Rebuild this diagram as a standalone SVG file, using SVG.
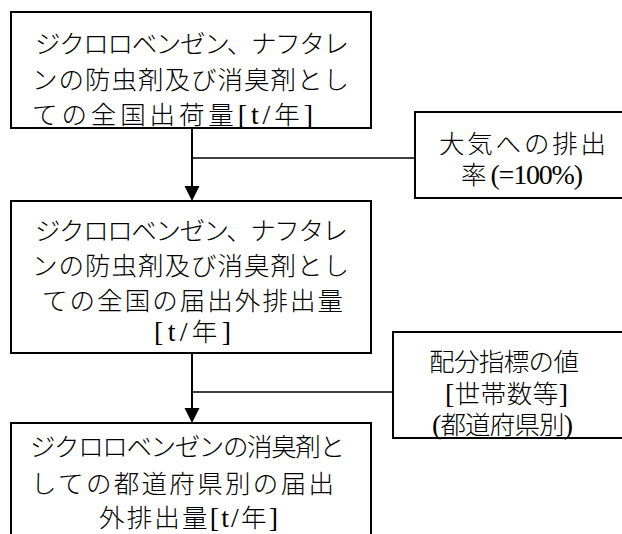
<svg xmlns="http://www.w3.org/2000/svg" width="622" height="534" viewBox="0 0 622 534">
<style>
.box{fill:#fff;stroke:#000;stroke-width:2}
.t{font-family:"Liberation Serif","Noto Sans CJK JP",serif;font-size:25.5px;font-weight:300;fill:#000}
.l{font-size:28px;font-weight:400}
.v{stroke:#000;stroke-width:2;fill:none}
.h{stroke:#000;stroke-width:1.5;fill:none}
</style>
<rect width="622" height="534" fill="#fff"/>
<g id="connectors">
<line class="v" x1="192" y1="128" x2="192" y2="187"/>
<polygon points="184.5,186 199.5,186 192,201" fill="#000"/>
<line class="h" x1="192" y1="158" x2="415" y2="158"/>
<line class="v" x1="192" y1="353" x2="192" y2="409"/>
<polygon points="184.5,408 199.5,408 192,423" fill="#000"/>
<line class="h" x1="192" y1="392" x2="393" y2="392"/>
</g>
<g id="node1">
<rect class="box" x="11" y="12" width="360" height="116"/>
<text class="t" x="35" y="53" textLength="314" lengthAdjust="spacing">ジクロロベンゼン、ナフタレ</text>
<text class="t" x="32" y="89" textLength="317" lengthAdjust="spacing">ンの防虫剤及び消臭剤とし</text>
<text class="t" x="32" y="124" textLength="281" lengthAdjust="spacing">ての全国出荷量<tspan class="l">[t/</tspan>年<tspan class="l">]</tspan></text>
</g>
<g id="node2">
<rect class="box" x="415" y="112" width="220" height="86"/>
<text class="t" x="439" y="153" textLength="167" lengthAdjust="spacing">大気への排出</text>
<text class="t" x="461" y="184" textLength="122" lengthAdjust="spacing">率 <tspan class="l">(=100%)</tspan></text>
</g>
<g id="node3">
<rect class="box" x="11" y="201" width="360" height="152"/>
<text class="t" x="35" y="240" textLength="313" lengthAdjust="spacing">ジクロロベンゼン、ナフタレ</text>
<text class="t" x="32" y="275" textLength="317" lengthAdjust="spacing">ンの防虫剤及び消臭剤とし</text>
<text class="t" x="42" y="310" textLength="301" lengthAdjust="spacing">ての全国の届出外排出量</text>
<text class="t" x="154" y="341" textLength="77" lengthAdjust="spacing"><tspan class="l">[t/</tspan>年<tspan class="l">]</tspan></text>
</g>
<g id="node4">
<rect class="box" x="393" y="332" width="240" height="106"/>
<text class="t" x="429" y="371" textLength="150" lengthAdjust="spacing">配分指標の値</text>
<text class="t" x="445" y="403" textLength="123" lengthAdjust="spacing"><tspan class="l">[</tspan>世帯数等<tspan class="l">]</tspan></text>
<text class="t" x="432" y="434" textLength="141" lengthAdjust="spacing"><tspan class="l">(</tspan>都道府県別<tspan class="l">)</tspan></text>
</g>
<g id="node5">
<rect class="box" x="11" y="423" width="360" height="130"/>
<text class="t" x="30" y="456" textLength="315" lengthAdjust="spacing">ジクロロベンゼンの消臭剤と</text>
<text class="t" x="31" y="493" textLength="303" lengthAdjust="spacing">しての都道府県別の届出</text>
<text class="t" x="99" y="527" textLength="179" lengthAdjust="spacing">外排出量<tspan class="l">[t/</tspan>年<tspan class="l">]</tspan></text>
</g>
</svg>
